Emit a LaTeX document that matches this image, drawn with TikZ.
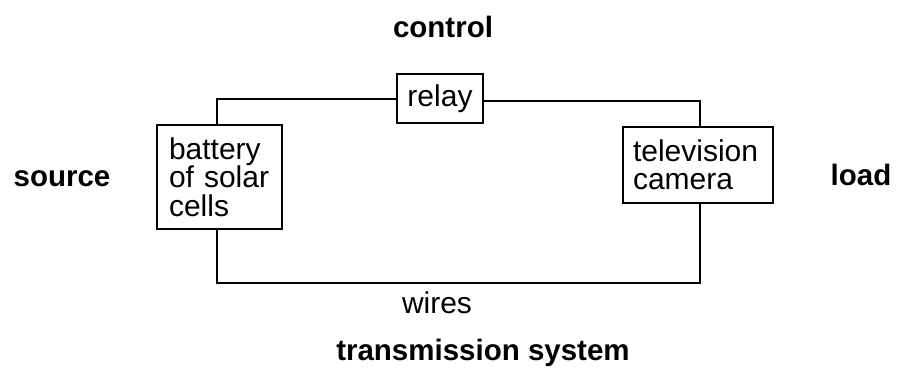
\documentclass[tikz,border=0pt]{standalone}
\usepackage{fontspec}
\setmainfont{Liberation Sans}
\begin{document}
\begin{tikzpicture}[x=1pt,y=-1pt,
  box/.style={draw,line width=2.3pt,inner sep=0pt,align=left,font=\fontsize{30}{28.5}\selectfont},
  wire/.style={line width=2pt},
  lbl/.style={font=\bfseries\fontsize{29.5}{30}\selectfont,inner sep=0pt,anchor=base},
  txt/.style={font=\fontsize{30}{30}\selectfont,inner sep=0pt,anchor=base}]
\useasboundingbox (0,0) rectangle (897,368);
\node[box,minimum width=125pt,minimum height=104pt,text width=101pt] (bat) at (219.5,177) {battery\\of solar\\cells};
\node[box,minimum width=150pt,minimum height=76pt,text width=130pt] (tv) at (698,165) {television\\camera};
\node[box,minimum width=86pt,minimum height=49pt,align=center] (relay) at (440,98.5) {relay};
\coordinate (bs) at ([xshift=-2.5pt]bat.south);
\coordinate (bn) at ([xshift=-2.5pt]bat.north);
\coordinate (tvb) at ([xshift=2pt]tv.south);
\coordinate (tvt) at ([xshift=2pt]tv.north);
\coordinate (re) at ([yshift=-2.5pt]relay.east);
\coordinate (bot) at (0,283);
\draw[wire] (bn) |- (relay.west);
\draw[wire] (re) -| (tvt);
\draw[wire] (bs) -- (bs |- bot) -- (tvb |- bot) -- (tvb);
\node[lbl] (control) at (443,37) {control};
\node[lbl] (source) at (62,186) {source};
\node[lbl] (load) at (861,185) {load};
\node[txt] (wires) at (437,313) {wires};
\node[lbl] (trans) at (483,360) {transmission system};
\end{tikzpicture}
\end{document}
